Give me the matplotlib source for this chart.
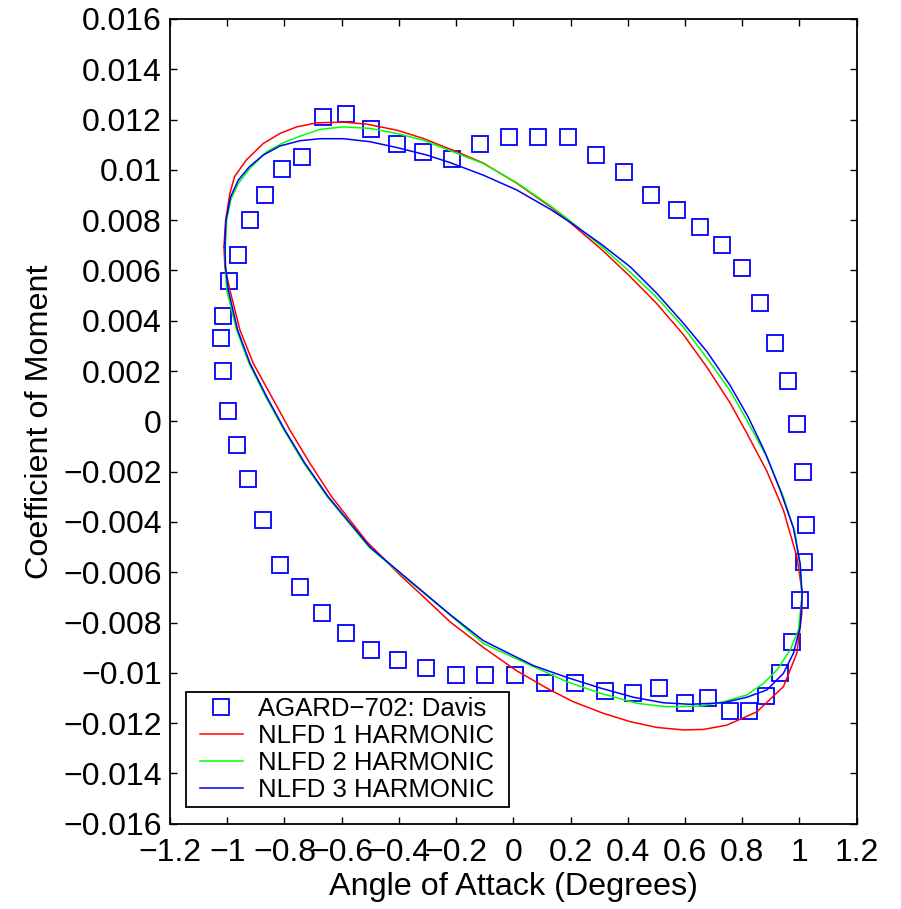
import matplotlib
matplotlib.use("Agg")
import matplotlib.pyplot as plt
from matplotlib.path import Path

plt.rcParams['font.family'] = ['Liberation Sans', 'DejaVu Sans']

# Experimental data: AGARD-702 (Davis), pitching airfoil
exp_alpha = [-0.664, -0.585, -0.4975, -0.408, -0.315, -0.215, -0.116, -0.014, 0.087, 0.19,
             0.29, 0.388, 0.481, 0.571, 0.653, 0.731, 0.80, 0.8626, 0.916, 0.959,
             0.993, 1.014, 1.023, 1.0175, 1.0024, 0.973, 0.9325, 0.8836, 0.825, 0.758,
             0.682, 0.600, 0.5105, 0.4175, 0.3206, 0.217, 0.111, 0.006, -0.099, -0.202,
             -0.305, -0.404, -0.4975, -0.585, -0.67, -0.746, -0.816, -0.876, -0.9265, -0.967,
             -0.9986, -1.016, -1.021, -1.014, -0.993, -0.9615, -0.9196, -0.868, -0.8077, -0.74]
exp_cm = [0.01211, 0.01222, 0.01161, 0.01103, 0.01072, 0.01042, 0.01101, 0.01132, 0.01132, 0.01132,
          0.0106, 0.0099, 0.0090, 0.0084, 0.00771, 0.0070, 0.00611, 0.00469, 0.0031, 0.0016,
          -0.0001, -0.00203, -0.00412, -0.0056, -0.0071, -0.00879, -0.0100, -0.01091, -0.01151, -0.01151,
          -0.01099, -0.01121, -0.01059, -0.01081, -0.01071, -0.01039, -0.01039, -0.0101, -0.0101, -0.0101,
          -0.00982, -0.00949, -0.00909, -0.0084, -0.00761, -0.0066, -0.00571, -0.00392, -0.00231, -0.00094,
          0.00041, 0.0020, 0.0033, 0.0042, 0.0056, 0.00661, 0.0080, 0.0090, 0.01002, 0.01052]

# NLFD solution, 1 harmonic (closed loop)
h1_alpha = [-1.0115, -1.0056, -0.9906, -0.9745, -0.9336, -0.8741, -0.8158, -0.7573, -0.6874, -0.5944,
            -0.5126, -0.4077, -0.3147, -0.1979, -0.1049, 0.0119, 0.1283, 0.1867, 0.3147, 0.408,
            0.5014, 0.5944, 0.6762, 0.7577, 0.8161, 0.886, 0.944, 0.9909, 1.0084, 1.0084,
            0.9909, 0.944, 0.851, 0.7462, 0.6643, 0.5944, 0.5014, 0.408, 0.3147, 0.2098,
            0.1283, 0.0119, -0.1049, -0.2213, -0.3147, -0.3962, -0.5126, -0.635, -0.7108, -0.7808,
            -0.8448, -0.9091, -0.9556, -0.9906, -1.008, -1.0115]
h1_cm = [0.00694, 0.0080, 0.00907, 0.00973, 0.01039, 0.01105, 0.01145, 0.01171, 0.01187, 0.0119,
         0.01182, 0.01158, 0.01125, 0.01072, 0.01027, 0.00947, 0.00854, 0.00802, 0.00677, 0.00576,
         0.00468, 0.00345, 0.00216, 0.00073, -0.00047, -0.00198, -0.00353, -0.00538, -0.00671, -0.00763,
         -0.00922, -0.01055, -0.01155, -0.01208, -0.01225, -0.01227, -0.01217, -0.01194, -0.01161, -0.01115,
         -0.01068, -0.00992, -0.00899, -0.00797, -0.00697, -0.00611, -0.00478, -0.003, -0.00167, -0.00035,
         0.00098, 0.00231, 0.00363, 0.00522, 0.0061, 0.00694]

# NLFD solution, 2 harmonics (closed loop)
h2_alpha = [-1.008, -1.0021, -0.9881, -0.9615, -0.9206, -0.8622, -0.8042, -0.7458, -0.6759, -0.5944,
            -0.501, -0.4077, -0.3147, -0.1979, -0.1049, 0.0119, 0.1283, 0.1867, 0.3147, 0.408,
            0.5014, 0.5944, 0.6762, 0.7577, 0.8101, 0.886, 0.944, 0.985, 1.0024, 1.0084,
            0.9965, 0.9675, 0.921, 0.8741, 0.8161, 0.7343, 0.6528, 0.5364, 0.4315, 0.3031,
            0.1867, 0.0119, -0.1049, -0.2213, -0.3962, -0.5045, -0.6503, -0.7318, -0.8017, -0.8657,
            -0.9241, -0.9671, -1.0021, -1.0063, -1.008]
h2_cm = [0.00668, 0.0080, 0.0088, 0.00946, 0.01006, 0.01072, 0.01108, 0.01134, 0.01161, 0.01171,
         0.01165, 0.01145, 0.01118, 0.01066, 0.01025, 0.00949, 0.00858, 0.00808, 0.00689, 0.00594,
         0.00492, 0.00375, 0.00252, 0.00122, 0.00017, -0.00142, -0.003, -0.00445, -0.00578, -0.00697,
         -0.0083, -0.00909, -0.00989, -0.01042, -0.01088, -0.01115, -0.01132, -0.01135, -0.01121, -0.01081,
         -0.01035, -0.00945, -0.00883, -0.0077, -0.00604, -0.005, -0.003, -0.00167, -0.00035, 0.00098,
         0.00231, 0.00363, 0.00522, 0.00602, 0.00668]

# NLFD solution, 3 harmonics (closed loop)
h3_alpha = [-1.008, -1.0045, -0.9881, -0.9615, -0.9231, -0.8741, -0.8158, -0.7458, -0.6759, -0.5944,
            -0.501, -0.4077, -0.3028, -0.2213, -0.1049, 0.0119, 0.1283, 0.1983, 0.3031, 0.408,
            0.5014, 0.5944, 0.6762, 0.7577, 0.8206, 0.8801, 0.9325, 0.979, 1.0024, 1.0094,
            1.0024, 0.979, 0.944, 0.886, 0.8161, 0.7343, 0.6178, 0.5245, 0.4196, 0.3031,
            0.1867, 0.0699, -0.1049, -0.2213, -0.3962, -0.501, -0.6469, -0.7283, -0.7983, -0.8622,
            -0.9206, -0.9636, -0.9965, -1.0063, -1.008]
h3_cm = [0.00708, 0.0080, 0.00893, 0.00959, 0.01012, 0.01059, 0.01095, 0.01116, 0.01124, 0.01124,
         0.01112, 0.01089, 0.01059, 0.01029, 0.00979, 0.0092, 0.00844, 0.00792, 0.00708, 0.00615,
         0.00509, 0.0039, 0.00278, 0.00143, 0.00018, -0.00124, -0.00273, -0.00424, -0.00565, -0.00691,
         -0.00817, -0.00922, -0.01002, -0.01068, -0.01097, -0.01119, -0.01125, -0.01119, -0.01097, -0.0106,
         -0.01018, -0.00971, -0.00872, -0.00768, -0.00601, -0.005, -0.003, -0.00167, -0.00035, 0.00098,
         0.00231, 0.00363, 0.00522, 0.00621, 0.00708]

x_ticks = [-1.2, -1.0, -0.8, -0.6, -0.4, -0.2, 0.0, 0.2, 0.4, 0.6, 0.8, 1.0, 1.2]
x_tick_labels = ['\u22121.2', '\u22121', '\u22120.8', '\u22120.6', '\u22120.4', '\u22120.2',
                 '0', '0.2', '0.4', '0.6', '0.8', '1', '1.2']
y_ticks = [-0.016, -0.014, -0.012, -0.010, -0.008, -0.006, -0.004, -0.002, 0.0,
           0.002, 0.004, 0.006, 0.008, 0.010, 0.012, 0.014, 0.016]
y_tick_labels = ['\u22120.016', '\u22120.014', '\u22120.012', '\u22120.01', '\u22120.008',
                 '\u22120.006', '\u22120.004', '\u22120.002', '0', '0.002', '0.004', '0.006',
                 '0.008', '0.01', '0.012', '0.014', '0.016']


def wide_square(x0, y0, width, height, mutation_size):
    """Square legend frame with extra horizontal padding."""
    padx = 0.36 * mutation_size
    xa, xb = x0 - padx, x0 + width + padx
    ya, yb = y0, y0 + height
    return Path([(xa, ya), (xb, ya), (xb, yb), (xa, yb), (xa, ya)], closed=True)


fig = plt.figure(figsize=(9.01, 9.09), dpi=100)
ax = fig.add_axes([0.1887, 0.0938, 0.9508 - 0.1887, 0.9791 - 0.0938])

ax.plot(exp_alpha, exp_cm, linestyle='none', marker='s', markersize=11.5,
        markerfacecolor='none', markeredgecolor=(0, 0, 1), markeredgewidth=1.3,
        label='AGARD\u2212702: Davis')
ax.plot(h1_alpha, h1_cm, color=(1, 0, 0), lw=1.1, label='NLFD 1 HARMONIC')
ax.plot(h2_alpha, h2_cm, color=(0, 1, 0), lw=1.1, label='NLFD 2 HARMONIC')
ax.plot(h3_alpha, h3_cm, color=(0, 0, 1), lw=1.1, label='NLFD 3 HARMONIC')

ax.set_xlim(-1.2, 1.2)
ax.set_ylim(-0.016, 0.016)
ax.set_xticks(x_ticks)
ax.set_xticklabels(x_tick_labels)
ax.set_yticks(y_ticks)
ax.set_yticklabels(y_tick_labels)
ax.tick_params(direction='in', length=5, width=1.0, labelsize=23, top=True, right=True,
               colors='black')
ax.tick_params(axis='y', pad=6)
ax.tick_params(axis='x', pad=10)
for s in ax.spines.values():
    s.set_linewidth(1.3)

ax.set_xlabel('Angle of Attack (Degrees)', fontsize=23.3, labelpad=3)
ax.set_ylabel('Coefficient of Moment', fontsize=23.3, labelpad=6)

leg = ax.legend(loc='lower left', bbox_to_anchor=(0.0362, 0.0202), borderaxespad=0,
                fontsize=18.5, frameon=True, fancybox=False, framealpha=1, edgecolor='black',
                handlelength=1.66, handletextpad=0.6, labelspacing=0.12, borderpad=0.2,
                numpoints=1)
leg.get_frame().set_linewidth(1.3)
leg.get_frame().set_boxstyle(wide_square)

fig.savefig('out.png', dpi=100)
